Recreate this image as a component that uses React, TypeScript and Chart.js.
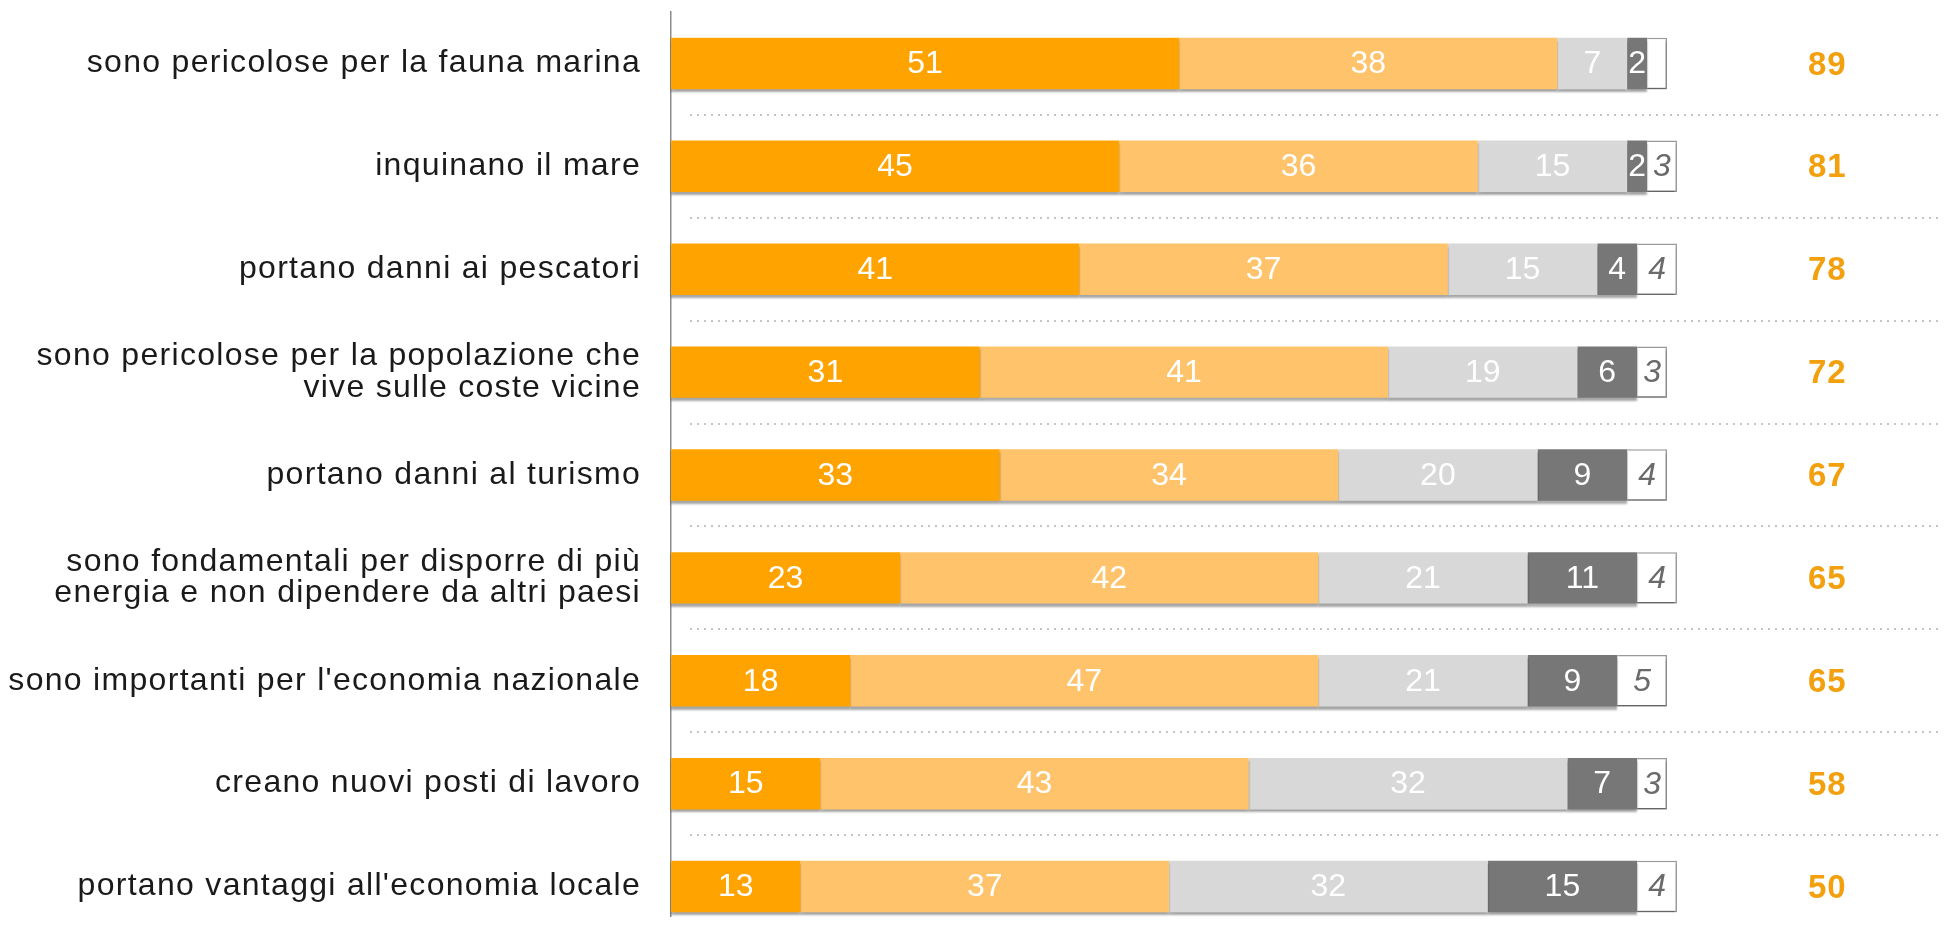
import React, { useEffect, useRef } from "react";
import { Chart, registerables } from "chart.js";

Chart.register(...registerables);

const categories: (string | string[])[] = [
  "sono pericolose per la fauna marina",
  "inquinano il mare",
  "portano danni ai pescatori",
  ["sono pericolose per la popolazione che", "vive sulle coste vicine"],
  "portano danni al turismo",
  ["sono fondamentali per disporre di più", "energia e non dipendere da altri paesi"],
  "sono importanti per l'economia nazionale",
  "creano nuovi posti di lavoro",
  "portano vantaggi all'economia locale",
];

const moltoValues = [51, 45, 41, 31, 33, 23, 18, 15, 13];
const abbastanzaValues = [38, 36, 37, 41, 34, 42, 47, 43, 37];
const pocoValues = [7, 15, 15, 19, 20, 21, 21, 32, 32];
const perNullaValues = [2, 2, 4, 6, 9, 11, 9, 7, 15];
const nonSaValues = [2, 3, 4, 3, 4, 4, 5, 3, 4];
const totalValues = [89, 81, 78, 72, 67, 65, 65, 58, 50];

const TOTAL_X = 116.1;
const FONT = "'Liberation Sans', Arial, sans-serif";

const decorPlugin = {
  id: "decor",
  beforeDraw(chart: any) {
    chart.ctx.letterSpacing = "1.3px";
  },
  beforeDatasetsDraw(chart: any) {
    const ctx = chart.ctx;
    const ys = chart.scales.y;
    const step = ys.getPixelForValue(1) - ys.getPixelForValue(0);
    ctx.save();
    ctx.setLineDash([2, 5]);
    ctx.strokeStyle = "#c4c4c4";
    ctx.lineWidth = 2;
    for (let i = 0; i < categories.length - 1; i++) {
      const y = Math.round(ys.getPixelForValue(i) + step / 2);
      ctx.beginPath();
      ctx.moveTo(chart.chartArea.left + 19, y);
      ctx.lineTo(chart.width, y);
      ctx.stroke();
    }
    ctx.restore();
  },
  beforeDatasetDraw(chart: any) {
    const ctx = chart.ctx;
    ctx.save();
    ctx.shadowColor = "rgba(0,0,0,0.35)";
    ctx.shadowOffsetY = 3;
    ctx.shadowBlur = 2;
  },
  afterDatasetDraw(chart: any) {
    chart.ctx.restore();
  },
  afterDatasetsDraw(chart: any) {
    const ctx = chart.ctx;
    ctx.save();
    ctx.letterSpacing = "0px";
    ctx.textAlign = "center";
    ctx.textBaseline = "middle";
    chart.data.datasets.forEach((ds: any, di: number) => {
      const meta = chart.getDatasetMeta(di);
      meta.data.forEach((bar: any, i: number) => {
        const v = ds.data[i];
        if (ds.hideBelow && v < ds.hideBelow) return;
        const cx = (bar.x + bar.base) / 2;
        ctx.font = (ds.italicLabel ? "italic " : "") + "32px " + FONT;
        ctx.fillStyle = ds.labelColor;
        ctx.fillText(String(v), cx, bar.y + 1);
      });
    });
    const xs = chart.scales.x;
    const ys = chart.scales.y;
    ctx.letterSpacing = "1px";
    ctx.font = "bold 33px " + FONT;
    ctx.fillStyle = "#F2A00E";
    totalValues.forEach((t, i) => {
      ctx.fillText(String(t), xs.getPixelForValue(TOTAL_X), ys.getPixelForValue(i) + 2);
    });
    ctx.restore();
  },
  afterDraw(chart: any) {
    chart.ctx.letterSpacing = "0px";
  },
};

export default function App() {
  const ref = useRef<HTMLCanvasElement | null>(null);

  useEffect(() => {
    if (!ref.current) return;
    const common = { borderWidth: 0, clip: false as any };
    const chart = new Chart(ref.current, {
      type: "bar",
      data: {
        labels: categories as any,
        datasets: [
          { label: "molto", data: moltoValues, backgroundColor: "#FFA300", labelColor: "#ffffff", ...common } as any,
          { label: "abbastanza", data: abbastanzaValues, backgroundColor: "#FFC36C", labelColor: "#ffffff", ...common } as any,
          { label: "poco", data: pocoValues, backgroundColor: "#D8D8D8", labelColor: "#ffffff", ...common } as any,
          { label: "per nulla", data: perNullaValues, backgroundColor: "#777777", labelColor: "#ffffff", ...common } as any,
          {
            label: "non sa",
            data: nonSaValues,
            backgroundColor: "#FFFFFF",
            borderColor: "#9a9a9a",
            borderWidth: 1.5,
            borderSkipped: "start",
            labelColor: "#6a6a6a",
            italicLabel: true,
            hideBelow: 3,
            clip: false,
          } as any,
        ],
      },
      options: {
        indexAxis: "y",
        responsive: false,
        animation: false,
        maintainAspectRatio: false,
        layout: { padding: { top: 4, bottom: 10, left: 0, right: 276 } },
        datasets: { bar: { categoryPercentage: 1, barPercentage: 0.5 } },
        plugins: { legend: { display: false }, tooltip: { enabled: false } },
        scales: {
          x: { display: false, stacked: true, min: 0, max: 100 },
          y: {
            type: "category",
            stacked: true,
            offset: true,
            grid: { display: false, drawTicks: false },
            border: { display: true, color: "#8c8c8c", width: 1.5 },
            ticks: {
              color: "#1a1a1a",
              autoSkip: false,
              padding: 30,
              font: { family: FONT, size: 32, lineHeight: 0.98 },
            },
            afterFit(scale: any) {
              scale.width = 663;
              scale.paddingTop = 0;
              scale.paddingBottom = 0;
            },
          },
        },
      } as any,
      plugins: [decorPlugin],
    });
    return () => chart.destroy();
  }, []);

  return (
    <div style={{ width: 1935, height: 909, overflow: "hidden" }}>
      <canvas ref={ref} width={1935} height={940} style={{ display: "block" }} />
    </div>
  );
}
